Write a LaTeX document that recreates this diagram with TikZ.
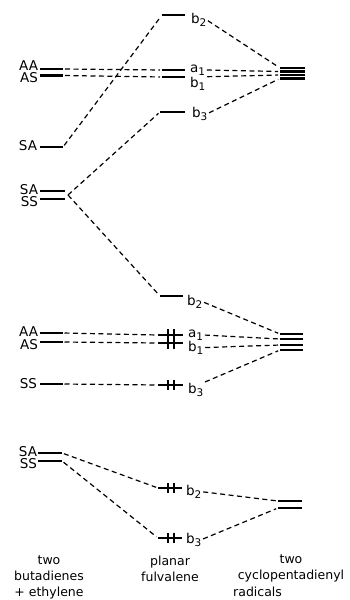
\documentclass[tikz,border=0pt]{standalone}
\usepackage{fontspec}
\setmainfont{DejaVu Sans}
\usetikzlibrary{calc}
\newcommand\lsub[1]{\raisebox{-3.5pt}{\fontsize{10.5}{10.5}\selectfont #1}}
\begin{document}
\begin{tikzpicture}[x=1pt,y=-1pt,
  lvl/.style={fill=black,minimum width=23pt,minimum height=2.4pt,inner sep=0pt,outer sep=0pt},
  lab/.style={inner sep=0pt,outer sep=0pt,font=\fontsize{13.5}{13.5}\selectfont},
  mlab/.style={lab,anchor=base west},
  llab/.style={lab,anchor=east},
  dsh/.style={dash pattern=on 5pt off 3.5pt,line width=1.2pt,shorten <=2pt,shorten >=2pt},
  bar/.style={line width=1.4pt},
  captxt/.style={align=center,inner sep=0pt,font=\fontsize{12.5}{16}\selectfont}]
\useasboundingbox (0,0) rectangle (350,600);

% ---- top group ----
\node[lvl] (AAt) at (51.5,69) {};
\node[lvl] (ASt) at (51.5,75.5) {};
\node[lvl] (SAu) at (51.5,147) {};
\node[lvl,minimum width=25pt] (SAp) at (52.5,191) {};
\node[lvl,minimum width=25pt] (SSp) at (52.5,199) {};
\coordinate (X) at (68,195);
\node[lvl] (b2t) at (173.5,15) {};
\node[lvl] (a1t) at (173.5,70) {};
\node[lvl] (b1t) at (173.5,77) {};
\node[lvl,minimum width=25pt] (b3t) at (172.5,112) {};
\node[lvl,minimum width=25pt] (R1) at (292.5,68) {};
\node[lvl,minimum width=25pt] (R2) at (292.5,71.5) {};
\node[lvl,minimum width=25pt] (R3) at (292.5,75) {};
\node[lvl,minimum width=25pt] (R4) at (292.5,78.5) {};

\node[llab] (lAAt) at (38,65.5) {AA};
\node[llab] (lASt) at (38,77.5) {AS};
\node[llab] (lSAu) at (37,146) {SA};
\node[llab] (lSAp) at (38,189.5) {SA};
\node[llab] (lSSp) at (38,201.5) {SS};
\node[mlab] (lb2t) at (191,23) {b\lsub{2}};
\node[mlab] (la1t) at (190,72) {a\lsub{1}};
\node[mlab] (lb1t) at (190,87) {b\lsub{1}};
\node[mlab] (lb3t) at (192,117) {b\lsub{3}};

% ---- middle group ----
\node[lvl] (AAm) at (51,333) {};
\node[lvl] (ASm) at (51,342) {};
\node[lvl] (SSm) at (51,384) {};
\node[lvl] (b2m) at (171.5,296) {};
\node[lvl,minimum width=25pt] (a1m) at (170.5,335) {};
\node[lvl,minimum width=25pt] (b1m) at (170.5,343) {};
\node[lvl,minimum width=25pt] (b3m) at (170.5,385) {};
\node[lvl] (Q1) at (291.5,334) {};
\node[lvl] (Q2) at (291.5,339) {};
\node[lvl] (Q3) at (291.5,345) {};
\node[lvl] (Q4) at (291.5,350) {};

\draw[bar] (168,329) -- (168,349);
\draw[bar] (174,329) -- (174,349);
\draw[bar] (168,380) -- (168,390);
\draw[bar] (174,380) -- (174,390);

\node[llab] (lAAm) at (38,332) {AA};
\node[llab] (lASm) at (38,344.5) {AS};
\node[llab] (lSSm) at (37,384) {SS};
\node[mlab] (lb2m) at (187,305) {b\lsub{2}};
\node[mlab] (la1m) at (188,337) {a\lsub{1}};
\node[mlab] (lb1m) at (188,351) {b\lsub{1}};
\node[mlab] (lb3m) at (188,393) {b\lsub{3}};

% ---- top connectors ----
\draw[dsh] (SAu.east) -- (b2t.west);
\draw[dsh] (AAt.east) -- (a1t.west);
\draw[dsh] (ASt.east) -- (b1t.west);
\draw[dsh,shorten <=0pt] (X) -- (b3t.west);
\draw[dsh,shorten <=0pt] (X) -- (b2m.west);
\draw[dsh] (lb2t.east) -- (R1.west);
\draw[dsh] (la1t.east) -- (R2.west);
\draw[dsh] (lb1t.north east) -- (R3.west);
\draw[dsh] (lb3t.east) -- (R4.west);

% ---- middle connectors ----
\draw[dsh] (AAm.east) -- (a1m.west);
\draw[dsh] (ASm.east) -- (b1m.west);
\draw[dsh] (SSm.east) -- (b3m.west);
\draw[dsh] (lb2m.east) -- (Q1.west);
\draw[dsh] (la1m.east) -- (Q2.west);
\draw[dsh] (lb1m.east) -- (Q3.west);
\draw[dsh] (lb3m.north east) -- (Q4.west);

% ---- bottom group ----
\node[lvl,minimum width=24pt] (SAb) at (50,453) {};
\node[lvl,minimum width=24pt] (SSb) at (50,461) {};
\node[lvl,minimum width=24pt] (b2b) at (170,488) {};
\node[lvl,minimum width=24pt] (b3b) at (170,538) {};
\node[lvl,minimum width=24pt] (P1) at (290,501) {};
\node[lvl,minimum width=24pt] (P2) at (290,508) {};

\draw[bar] (168,483) -- (168,493);
\draw[bar] (174,483) -- (174,493);
\draw[bar] (168,533) -- (168,543);
\draw[bar] (174,533) -- (174,543);

\node[llab] (lSAb) at (37,451.5) {SA};
\node[llab] (lSSb) at (37,464) {SS};
\node[mlab] (lb2b) at (186,495) {b\lsub{2}};
\node[mlab] (lb3b) at (186,543) {b\lsub{3}};

\draw[dsh] (SAb.east) -- (b2b.west);
\draw[dsh] (SSb.east) -- (b3b.west);
\draw[dsh] (lb2b.east) -- (P1.west);
\draw[dsh] (lb3b.east) -- (P2.west);

% ---- captions ----
\node[captxt] (c1) at (49,577) {two\\butadienes\\+ ethylene};
\node[captxt] (c2) at (170,568.5) {planar\\fulvalene};
\node[captxt] (c3) at (291,568.5) {two\\cyclopentadienyl};
\node[captxt,anchor=west] (c4) at (233,592) {radicals};
\end{tikzpicture}
\end{document}
